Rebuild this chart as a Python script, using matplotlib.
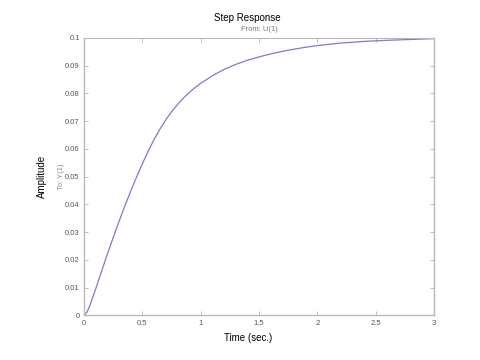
import numpy as np
import matplotlib
matplotlib.use('Agg')
import matplotlib.pyplot as plt

# step response
time_s = [0, 0.025, 0.05, 0.1, 0.15, 0.2, 0.25, 0.3, 0.35, 0.4, 0.45, 0.5, 0.55,
          0.6, 0.65, 0.7, 0.75, 0.8, 0.85, 0.9, 0.95, 1.0, 1.1, 1.2, 1.3, 1.4,
          1.5, 1.6, 1.7, 1.8, 1.9, 2.0, 2.2, 2.4, 2.6, 2.8, 3.0]
amplitude = [0, 0.0011, 0.0035, 0.0095, 0.0158, 0.0220, 0.0280, 0.0338, 0.0394,
             0.0447, 0.0498, 0.0546, 0.0591, 0.0633, 0.0670, 0.0704, 0.0733,
             0.0759, 0.0782, 0.0802, 0.0820, 0.0836, 0.0863, 0.0886, 0.0904,
             0.0919, 0.0931, 0.0942, 0.0951, 0.0959, 0.0966, 0.0972, 0.0981,
             0.0987, 0.0991, 0.0994, 0.0997]

x_ticks = [0, 0.5, 1, 1.5, 2, 2.5, 3]
x_labels = ['0', '0.5', '1', '1.5', '2', '2.5', '3']
y_ticks = [0, 0.01, 0.02, 0.03, 0.04, 0.05, 0.06, 0.07, 0.08, 0.09, 0.1]
y_labels = ['0', '0.01', '0.02', '0.03', '0.04', '0.05', '0.06', '0.07', '0.08', '0.09', '0.1']

plt.rcParams['font.family'] = ['Liberation Sans', 'DejaVu Sans']

fig = plt.figure(figsize=(4.8, 3.6), dpi=100)
ax = fig.add_axes([0.175, 0.124, 0.729, 0.771])

ax.plot(time_s, amplitude, color='#7b7bd0', lw=0.9)

ax.set_xlim(0, 3)
ax.set_ylim(0, 0.1)
ax.set_xticks(x_ticks)
ax.set_xticklabels(x_labels)
ax.set_yticks(y_ticks)
ax.set_yticklabels(y_labels)
ax.tick_params(direction='in', length=3, width=0.6, colors='#b0b0b0',
               labelcolor='#555555', labelsize=5.5, top=True, right=True, pad=3)

for side in ['left', 'right', 'bottom']:
    ax.spines[side].set_color('#b8b8b8')
    ax.spines[side].set_linewidth(1.0)
ax.spines['top'].set_color('#b8b8b8')
ax.spines['top'].set_linewidth(0.8)
ax.spines['top'].set_linestyle((0, (1, 1)))

fig.text(0.515, 0.95, 'Step Response', ha='center', va='center', fontsize=7, color='black')
fig.text(0.54, 0.917, 'From: U(1)', ha='center', va='center', fontsize=5.5, color='#777777')
fig.text(0.088, 0.51, 'Amplitude', ha='center', va='center', rotation=90, fontsize=7, color='black')
fig.text(0.129, 0.51, 'To: Y(1)', ha='center', va='center', rotation=90, fontsize=5.5, color='#888888')
fig.text(0.516, 0.062, 'Time (sec.)', ha='center', va='center', fontsize=7, color='black')

fig.savefig('out.png', dpi=100)
